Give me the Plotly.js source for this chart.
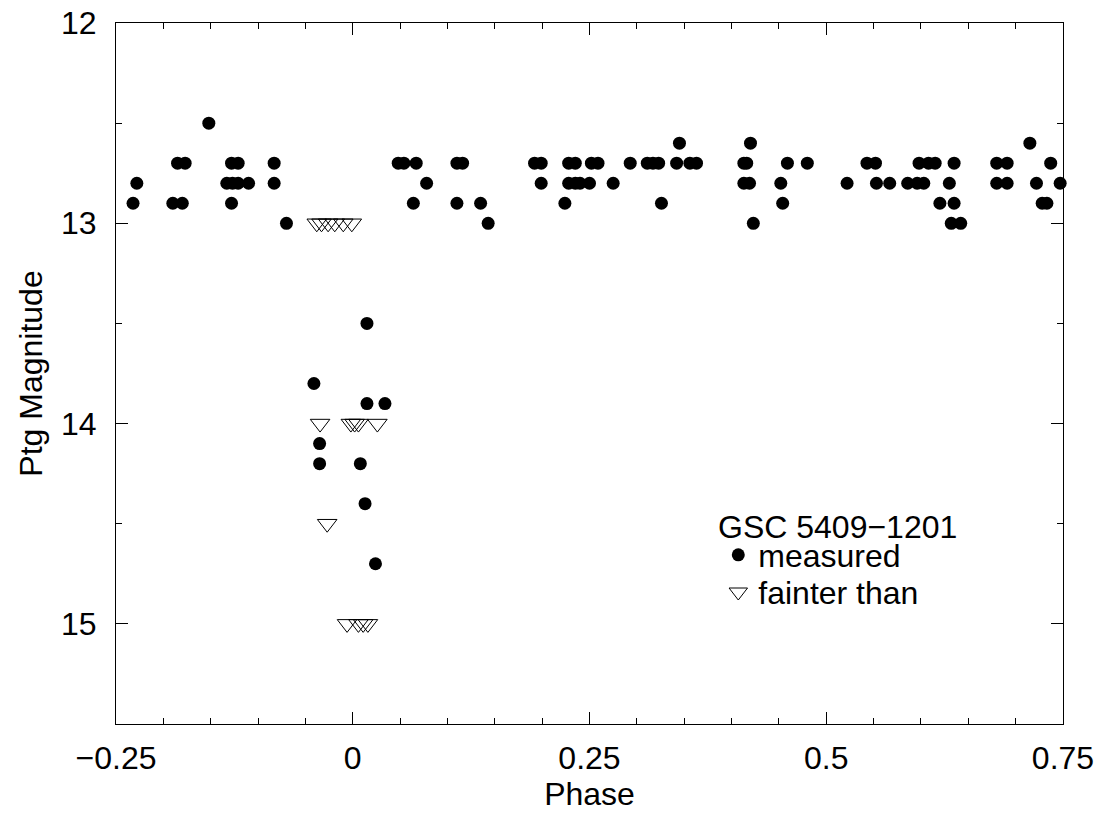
<!DOCTYPE html>
<html>
<head>
<meta charset="utf-8">
<script src="https://cdn.plot.ly/plotly-3.0.1.min.js"></script>
<style>html,body{margin:0;padding:0;background:#fff;}#chart{width:1104px;height:815px;}</style>
</head>
<body>
<div id="chart"></div>
<script>
// Measured points (phase, Ptg magnitude)
const measuredPhase = [
  -0.152,
  -0.185, -0.177, -0.128, -0.121, -0.083,
  -0.228, -0.133, -0.127, -0.121, -0.110, -0.083,
  -0.232, -0.190, -0.180, -0.128,
  -0.070,
  0.015, -0.041, 0.015, 0.034, -0.035, -0.035, 0.008, 0.013, 0.024,
  0.048, 0.054, 0.067, 0.110, 0.116, 0.192, 0.199, 0.228, 0.235, 0.252, 0.259,
  0.078, 0.199, 0.228, 0.235, 0.240, 0.250, 0.275,
  0.064, 0.110, 0.135, 0.224,
  0.143,
  0.345, 0.420,
  0.293, 0.311, 0.317, 0.323, 0.342, 0.356, 0.363, 0.413, 0.416, 0.459, 0.480,
  0.413, 0.419, 0.452,
  0.326, 0.454,
  0.423,
  0.715,
  0.543, 0.552, 0.598, 0.608, 0.615, 0.635, 0.680, 0.691, 0.737,
  0.522, 0.553, 0.567, 0.586, 0.596, 0.603, 0.630, 0.680, 0.691, 0.722, 0.747,
  0.620, 0.635, 0.728, 0.733,
  0.632, 0.642
];
const measuredMag = [
  12.5,
  12.7, 12.7, 12.7, 12.7, 12.7,
  12.8, 12.8, 12.8, 12.8, 12.8, 12.8,
  12.9, 12.9, 12.9, 12.9,
  13.0,
  13.5, 13.8, 13.9, 13.9, 14.1, 14.2, 14.2, 14.4, 14.7,
  12.7, 12.7, 12.7, 12.7, 12.7, 12.7, 12.7, 12.7, 12.7, 12.7, 12.7,
  12.8, 12.8, 12.8, 12.8, 12.8, 12.8, 12.8,
  12.9, 12.9, 12.9, 12.9,
  13.0,
  12.6, 12.6,
  12.7, 12.7, 12.7, 12.7, 12.7, 12.7, 12.7, 12.7, 12.7, 12.7, 12.7,
  12.8, 12.8, 12.8,
  12.9, 12.9,
  13.0,
  12.6,
  12.7, 12.7, 12.7, 12.7, 12.7, 12.7, 12.7, 12.7, 12.7,
  12.8, 12.8, 12.8, 12.8, 12.8, 12.8, 12.8, 12.8, 12.8, 12.8, 12.8,
  12.9, 12.9, 12.9, 12.9,
  13.0, 13.0
];
// Upper limits ("fainter than")
const fainterPhase = [
  -0.038, -0.033, -0.026, -0.019, -0.010, -0.001,
  -0.0345, -0.002, 0.002, 0.006, 0.026,
  -0.027,
  -0.006, 0.006, 0.011, 0.016
];
const fainterMag = [
  13.0, 13.0, 13.0, 13.0, 13.0, 13.0,
  14.0, 14.0, 14.0, 14.0, 14.0,
  14.5,
  15.0, 15.0, 15.0, 15.0
];
const xTickVals = [-0.25, 0, 0.25, 0.5, 0.75];
const xTickText = ["\u22120.25", "0", "0.25", "0.5", "0.75"];
const yTickVals = [12, 13, 14, 15];
const yTickText = ["12", "13", "14", "15"];
const starName = "GSC 5409\u22121201";

const FONT = "Liberation Sans, Arial, Helvetica, sans-serif";
const FS = 32;

const traces = [
  {
    x: measuredPhase, y: measuredMag, type: "scatter", mode: "markers",
    name: "measured", cliponaxis: false, legend: "legend",
    marker: {symbol: "circle", size: 13, color: "black", line: {width: 0}}
  },
  {
    x: fainterPhase, y: fainterMag, type: "scatter", mode: "markers",
    name: "fainter than", cliponaxis: false, legend: "legend2",
    marker: {symbol: "triangle-down-open", size: 17, color: "black", line: {width: 1, color: "black"}}
  }
];

const axisCommon = {
  showline: true, linecolor: "black", linewidth: 1, mirror: "ticks",
  ticks: "inside", ticklen: 12, tickwidth: 1, tickcolor: "black",
  showgrid: false, zeroline: false,
  tickfont: {family: FONT, size: FS, color: "black"}
};

const legendCommon = {
  xanchor: "left", yanchor: "middle",
  bgcolor: "rgba(0,0,0,0)", borderwidth: 0,
  font: {family: FONT, size: FS, color: "black"},
  itemwidth: 30
};

const layout = {
  width: 1104, height: 815,
  margin: {l: 116, r: 41, t: 23, b: 91},
  paper_bgcolor: "white", plot_bgcolor: "white",
  font: {family: FONT, size: FS, color: "black"},
  showlegend: true,
  xaxis: Object.assign({}, axisCommon, {
    range: [-0.25, 0.75],
    tickmode: "array", tickvals: xTickVals, ticktext: xTickText,
    ticklabelstandoff: 6,
    minor: {dtick: 0.05, tick0: 0, ticks: "inside", ticklen: 6, tickwidth: 1, tickcolor: "black"},
    title: {text: "Phase", font: {family: FONT, size: FS, color: "black"}, standoff: 6}
  }),
  yaxis: Object.assign({}, axisCommon, {
    range: [15.5, 12],
    tickmode: "array", tickvals: yTickVals, ticktext: yTickText,
    ticklabelstandoff: 12,
    minor: {dtick: 0.5, tick0: 12, ticks: "inside", ticklen: 6, tickwidth: 1, tickcolor: "black"},
    title: {text: "Ptg Magnitude", font: {family: FONT, size: FS, color: "black"}, standoff: 8}
  }),
  legend: Object.assign({}, legendCommon, {x: 0.636, y: 0.241}),
  legend2: Object.assign({}, legendCommon, {x: 0.636, y: 0.188}),
  annotations: [{
    text: starName, xref: "paper", yref: "paper", x: 0.634, y: 0.281,
    xanchor: "left", yanchor: "middle", showarrow: false,
    font: {family: FONT, size: FS, color: "black"}
  }]
};

Plotly.newPlot("chart", traces, layout, {staticPlot: true, displayModeBar: false});
</script>
</body>
</html>
